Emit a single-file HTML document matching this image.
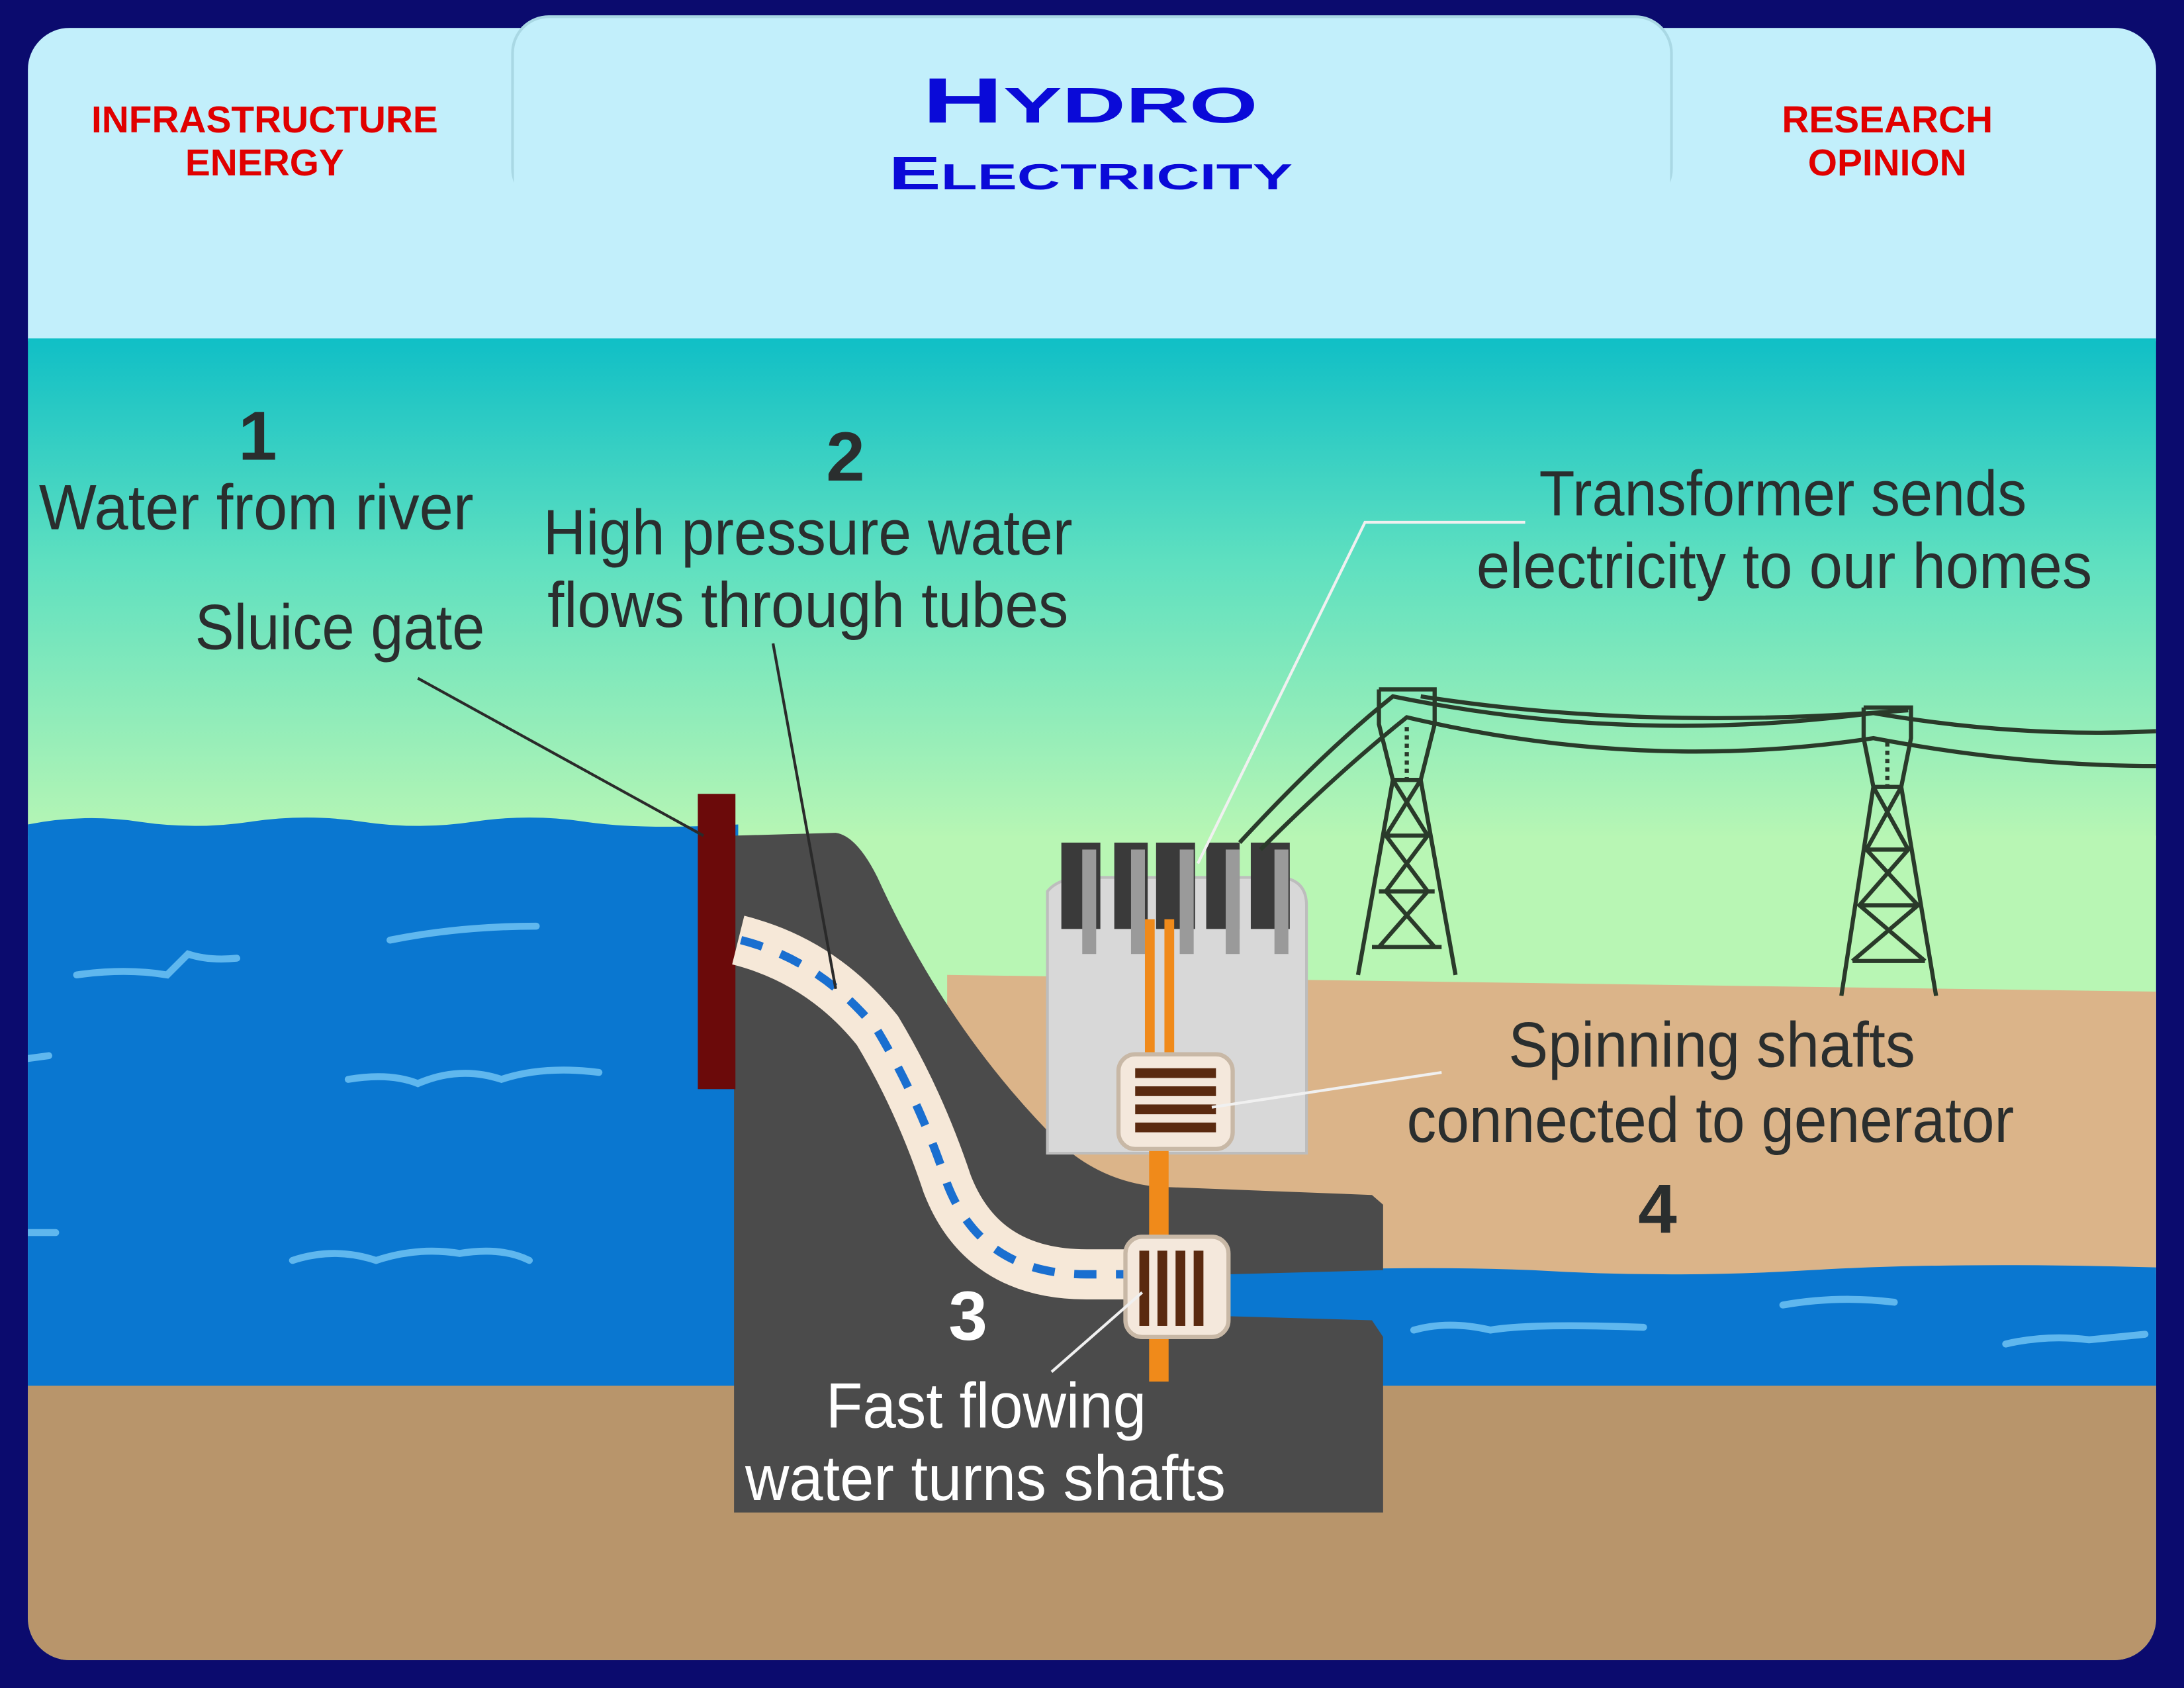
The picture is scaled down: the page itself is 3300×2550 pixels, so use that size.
<!DOCTYPE html>
<html><head><meta charset="utf-8"><style>
html,body{margin:0;padding:0;background:#0b0b6e;}
svg{display:block;}
text{font-family:"Liberation Sans",sans-serif;}
</style></head><body>
<svg width="3300" height="2550" viewBox="0 0 1568 1212" preserveAspectRatio="none" xmlns="http://www.w3.org/2000/svg">
<defs>
<linearGradient id="sky" x1="0" y1="0" x2="0" y2="1">
<stop offset="0" stop-color="#10bfc6"/>
<stop offset="0.45" stop-color="#5fe0c0"/>
<stop offset="1" stop-color="#b8f6b4"/>
</linearGradient>
<clipPath id="main"><rect x="20" y="20" width="1528" height="1172" rx="30"/></clipPath>
</defs>
<rect width="1568" height="1212" fill="#0b0b6e"/>
<g clip-path="url(#main)">
<rect x="20" y="20" width="1528" height="225" fill="#c2effb"/>
<rect x="20" y="243" width="1528" height="360" fill="url(#sky)"/>
<rect x="20" y="600" width="1528" height="600" fill="#b8f6b4"/>
<path d="M680 700 L1548 712 L1548 915 L680 915 Z" fill="#dbb489"/>
<path d="M20 592 Q60 584 100 590 T180 590 T260 590 T340 590 T420 590 T530 592 L530 1000 L20 1000 Z" fill="#0a77d0"/>
<path d="M870 915 Q1000 908 1100 912 Q1200 918 1300 912 T1548 910 L1548 1000 L870 1000 Z" fill="#0a77d0"/>
<rect x="20" y="995" width="1528" height="200" fill="#b8956b"/>
<g stroke="#5fb7ee" stroke-width="5" fill="none" stroke-linecap="round">
<path d="M55 700 Q90 695 120 700 L135 685 Q150 690 170 688"/>
<path d="M280 675 Q330 665 385 665"/>
<path d="M250 775 Q280 770 300 778 Q330 765 360 775 Q390 765 430 770"/>
<path d="M210 905 Q240 895 270 905 Q300 895 330 900 Q360 895 380 905"/>
<path d="M20 760 L35 758"/><path d="M20 885 L40 885"/>
<path d="M1015 955 Q1040 948 1070 955 Q1100 950 1180 953"/>
<path d="M1280 937 Q1320 930 1360 935"/>
<path d="M1440 965 Q1470 958 1500 962 L1540 958"/>
</g>
<path d="M527 1086 L527 600 L600 598 Q615 600 630 630 Q680 740 760 820 Q790 848 830 852 L985 858 L993 865 L993 912 L880 915 L880 945 L985 948 L993 960 L993 1086 Z" fill="#4b4b4b"/>
<rect x="501" y="570" width="27" height="212" fill="#6b0a0a"/>
<path d="M752 640 Q760 630 780 630 L920 630 Q938 632 938 650 L938 828 L752 828 Z" fill="#d8d8d8" stroke="#bdbdbd" stroke-width="2"/>
<g fill="#3a3a3a">
<rect x="762" y="605" width="28" height="62"/><rect x="800" y="605" width="24" height="62"/><rect x="830" y="605" width="28" height="62"/><rect x="866" y="605" width="24" height="62"/><rect x="898" y="605" width="28" height="62"/>
</g>
<g fill="#9a9a9a"><rect x="777" y="610" width="10" height="75"/><rect x="812" y="610" width="10" height="75"/><rect x="847" y="610" width="10" height="75"/><rect x="880" y="610" width="10" height="75"/><rect x="915" y="610" width="10" height="75"/></g>
<rect x="822" y="660" width="7" height="160" fill="#f08a1a"/>
<rect x="836" y="660" width="7" height="160" fill="#f08a1a"/>
<rect x="825" y="820" width="14" height="172" fill="#f08a1a"/>
<path d="M530 675 Q590 690 630 740 Q660 790 680 850 Q705 915 780 915 L812 915" stroke="#f6e8d8" stroke-width="36" fill="none"/>
<path d="M532 675 Q590 690 630 740 Q660 790 680 850 Q705 915 780 915 L810 915" stroke="#1a6fd0" stroke-width="6" fill="none" stroke-dasharray="16 14"/>
<rect x="803" y="757" width="82" height="68" rx="12" fill="#f4e8dc" stroke="#c8b8a6" stroke-width="3"/>
<g fill="#5a2a10"><rect x="815" y="767" width="58" height="7"/><rect x="815" y="780" width="58" height="7"/><rect x="815" y="793" width="58" height="7"/><rect x="815" y="806" width="58" height="7"/></g>
<rect x="808" y="888" width="74" height="72" rx="12" fill="#f4e8dc" stroke="#c8b8a6" stroke-width="3"/>
<g fill="#5a2a10"><rect x="818" y="898" width="7" height="54"/><rect x="831" y="898" width="7" height="54"/><rect x="844" y="898" width="7" height="54"/><rect x="857" y="898" width="7" height="54"/></g>
<g stroke="#2a3a2a" stroke-width="3" fill="none">
<path d="M890 605 Q950 540 1000 500 Q1170 535 1345 512 Q1450 530 1548 525"/>
<path d="M905 610 Q960 555 1010 515 Q1180 555 1345 530 Q1450 550 1548 550"/>
<path d="M1020 500 Q1180 525 1370 510"/>
<path d="M990 495 L1030 495 L1030 520 L1020 560 L1045 700 M990 495 L990 520 L1000 560 L975 700 M1000 560 L1020 560 M995 600 L1025 600 M990 640 L1030 640 M985 680 L1035 680 M1000 560 L1025 600 L995 640 L1030 680 M1020 560 L995 600 L1025 640 L990 680"/>
<path d="M1338 508 L1372 508 L1372 530 L1365 565 L1390 715 M1338 508 L1338 530 L1345 565 L1322 715 M1345 565 L1365 565 M1340 610 L1370 610 M1335 650 L1377 650 M1330 690 L1382 690 M1345 565 L1370 610 L1335 650 L1382 690 M1365 565 L1340 610 L1377 650 L1330 690"/>
</g>
<g stroke="#2a3a2a" stroke-width="3" stroke-dasharray="3 3"><path d="M1010 522 L1010 560"/><path d="M1355 533 L1355 565"/></g>
<g stroke="#2a2a2a" stroke-width="2" fill="none">
<path d="M300 487 L505 600"/>
<path d="M555 462 L600 710"/>
</g>
<g stroke="#f0f0f0" stroke-width="2" fill="none">
<path d="M1095 375 L980 375 L860 620"/>
<path d="M1035 770 L870 795"/>
<path d="M820 928 L755 985"/>
</g>
<g fill="#2a2e2e" font-size="46" lengthAdjust="spacingAndGlyphs">
<text x="185" y="330" font-size="50" font-weight="bold" text-anchor="middle">1</text>
<text x="28" y="380" textLength="312" lengthAdjust="spacingAndGlyphs">Water from river</text>
<text x="140" y="466" textLength="208" lengthAdjust="spacingAndGlyphs">Sluice gate</text>
<text x="607" y="345" font-size="50" font-weight="bold" text-anchor="middle">2</text>
<text x="390" y="398" textLength="380" lengthAdjust="spacingAndGlyphs">High pressure water</text>
<text x="393" y="450" textLength="374" lengthAdjust="spacingAndGlyphs">flows through tubes</text>
<text x="1105" y="370" textLength="350" lengthAdjust="spacingAndGlyphs">Transformer sends</text>
<text x="1060" y="422" textLength="442" lengthAdjust="spacingAndGlyphs">electricity to our homes</text>
<text x="1083" y="766" textLength="292" lengthAdjust="spacingAndGlyphs">Spinning shafts</text>
<text x="1010" y="820" textLength="436" lengthAdjust="spacingAndGlyphs">connected to generator</text>
<text x="1190" y="885" font-size="50" font-weight="bold" text-anchor="middle">4</text>
</g>
<g fill="#ffffff" font-size="46">
<text x="695" y="962" font-size="50" font-weight="bold" text-anchor="middle">3</text>
<text x="593" y="1025" textLength="230" lengthAdjust="spacingAndGlyphs">Fast flowing</text>
<text x="535" y="1077" textLength="345" lengthAdjust="spacingAndGlyphs">water turns shafts</text>
</g>
</g>
<rect x="368" y="12" width="832" height="135" rx="26" fill="#c2effb" stroke="#a9d8e4" stroke-width="2"/>
<rect x="369" y="60" width="830" height="100" fill="#c2effb"/>
<text x="662" y="88" font-size="46" font-weight="bold" fill="#0a0ad8" textLength="241" lengthAdjust="spacingAndGlyphs">H<tspan font-size="36">YDRO</tspan></text>
<text x="638" y="136" font-size="34" font-weight="bold" fill="#0a0ad8" textLength="290" lengthAdjust="spacingAndGlyphs">E<tspan font-size="26">LECTRICITY</tspan></text>
<text x="190" y="95" font-size="27" font-weight="bold" fill="#e00000" text-anchor="middle">INFRASTRUCTURE</text>
<text x="190" y="126" font-size="27" font-weight="bold" fill="#e00000" text-anchor="middle">ENERGY</text>
<text x="1355" y="95" font-size="27" font-weight="bold" fill="#e00000" text-anchor="middle">RESEARCH</text>
<text x="1355" y="126" font-size="27" font-weight="bold" fill="#e00000" text-anchor="middle">OPINION</text>
</svg>
</body></html>
